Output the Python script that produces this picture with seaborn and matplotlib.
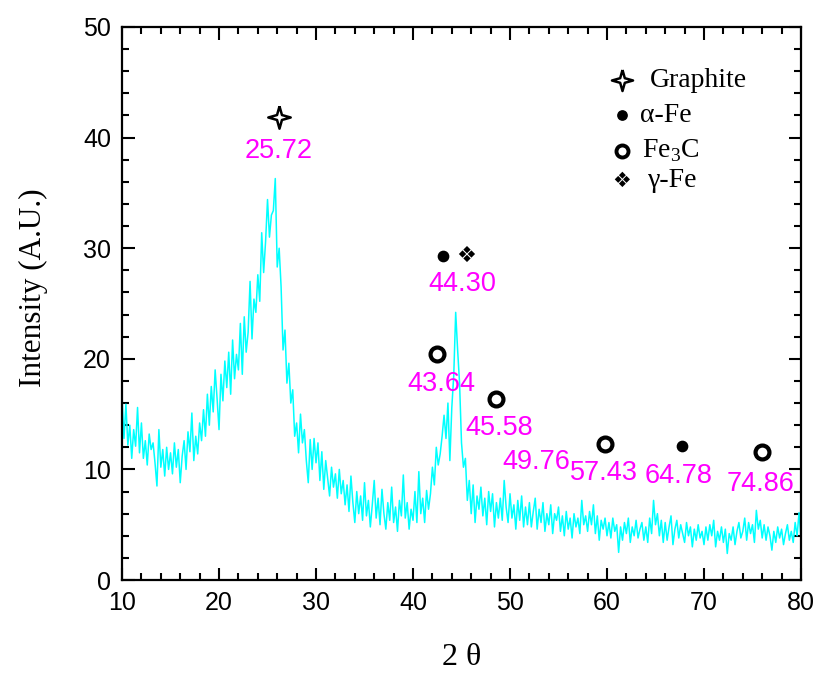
import numpy as np
import pandas as pd
import seaborn as sns
import matplotlib.pyplot as plt
from matplotlib.path import Path

# XRD intensity, every 0.2 degree from 10 to 80
intensity = [
    16.5, 12.8, 15.9, 12.2, 14.0,  11.0, 13.6, 12.1, 15.6, 11.5,
    14.2, 11.0, 12.6, 10.4, 13.2,  11.8, 12.4, 10.6, 8.5, 13.6,
    10.2, 11.8, 9.4, 12.0, 10.0,   11.5, 9.6, 12.4, 10.2, 11.8,
    8.8, 11.2, 12.6, 10.0, 13.4,   11.6, 15.1, 10.8, 13.0, 11.4,
    14.2, 12.6, 15.4, 13.0, 16.8,  14.0, 17.5, 15.2, 19.0, 16.4,
    13.6, 18.6, 16.2, 19.8, 17.4,  20.6, 16.8, 21.7, 18.2, 20.4,
    19.0, 23.2, 18.6, 23.8, 20.6,  22.4, 27.0, 21.8, 25.4, 24.2,
    27.6, 25.2, 31.4, 27.8, 30.6,  34.4, 31.0, 33.0, 33.4, 36.3,
    28.3, 30.0, 26.5, 20.8, 22.6,  17.8, 19.6, 16.0, 17.2, 13.0,
    14.2, 11.5, 15.0, 12.4, 13.6,  10.8, 8.8, 12.7, 10.0, 12.8,
    10.6, 12.4, 9.0, 11.6, 8.2,    10.8, 9.2, 7.6, 10.2, 8.4,
    9.6, 7.4, 10.0, 7.8, 9.0,      6.8, 8.6, 6.2, 9.4, 7.0,
    5.2, 8.0, 6.0, 7.6, 5.4,       8.8, 5.8, 7.2, 4.8, 6.8,
    9.0, 5.6, 7.4, 5.0, 8.2,       6.0, 4.6, 7.0, 5.4, 8.4,
    5.2, 6.6, 4.4, 7.2, 5.8,       9.5, 5.6, 7.0, 4.6, 6.4,
    5.4, 8.0, 5.2, 9.8, 6.0,       7.4, 5.2, 8.1, 6.4, 7.8,
    10.2, 8.6, 12.0, 10.4, 11.4,   13.0, 14.9, 12.8, 16.0, 10.8,
    15.6, 18.5, 24.2, 20.8, 17.8,  12.4, 10.2, 11.0, 7.2, 9.0,
    6.0, 8.6, 5.2, 7.6, 6.4,       8.4, 5.8, 7.4, 5.0, 8.0,
    6.2, 7.8, 4.8, 7.0, 5.6,       7.4, 5.4, 9.0, 6.6, 5.2,
    7.8, 5.6, 6.8, 4.6, 7.2,       5.4, 7.6, 4.8, 6.6, 5.0,
    7.0, 4.8, 6.2, 7.4, 4.6,       6.4, 5.2, 7.0, 4.4, 6.0,
    5.0, 6.8, 4.2, 6.0, 5.4,       6.6, 4.4, 5.8, 4.0, 6.2,
    4.6, 5.6, 3.8, 6.0, 4.8,       5.6, 4.2, 7.2, 5.0, 5.8,
    4.4, 6.2, 5.0, 6.8, 4.2,       5.8, 3.6, 5.4, 4.6, 5.6,
    4.0, 5.2, 3.8, 5.6, 4.4,       5.0, 2.5, 4.8, 3.6, 5.2,
    4.2, 5.6, 3.4, 4.8, 4.0,       5.4, 3.8, 4.6, 5.2, 3.6,
    4.8, 3.4, 5.6, 4.2, 7.2,       5.0, 6.0, 4.0, 5.4, 3.4,
    5.2, 3.6, 4.8, 5.8, 3.2,       4.6, 5.4, 3.8, 5.0, 4.2,
    3.4, 5.2, 4.0, 4.8, 3.0,       4.6, 3.6, 5.0, 3.8, 4.4,
    3.2, 4.8, 3.6, 5.0, 4.0,       5.4, 3.0, 4.4, 3.6, 4.8,
    3.4, 4.6, 2.4, 4.2, 3.6,       4.8, 3.2, 4.4, 5.2, 3.8,
    4.4, 5.6, 3.6, 5.2, 4.2,       5.0, 3.4, 6.3, 4.6, 5.4,
    3.8, 5.0, 3.6, 4.8, 4.0,       2.7, 4.4, 3.4, 4.8, 3.8,
    4.6, 3.2, 4.2, 5.0, 3.6,       4.4, 3.4, 5.2, 4.0, 6.1,
    3.8,
]
two_theta = np.linspace(10, 80, len(intensity))

# peak labels
peak_labels = ["25.72", "44.30", "43.64", "45.58", "49.76", "57.43", "64.78", "74.86"]
label_x = [26.1, 45.05, 42.9, 48.9, 52.7, 59.7, 67.4, 75.8]
label_y = [38.8, 26.8, 17.7, 13.7, 10.7, 9.7, 9.4, 8.7]

# phase markers over the peaks
graphite_x, graphite_y = [26.2], [41.9]
alpha_x, alpha_y = [43.1, 67.7], [29.3, 12.1]
gamma_x, gamma_y = [45.5], [29.3]
fe3c_x, fe3c_y = [42.5, 48.55, 59.8, 76.0], [20.4, 16.4, 12.3, 11.6]

df = pd.DataFrame({"two_theta": two_theta, "intensity": intensity})

sns.set_style("ticks")
plt.rcParams["font.family"] = ["Liberation Sans", "DejaVu Sans"]
plt.rcParams["text.color"] = "black"
plt.rcParams["axes.labelcolor"] = "black"
plt.rcParams["xtick.color"] = "black"
plt.rcParams["ytick.color"] = "black"
plt.rcParams["mathtext.fontset"] = "custom"
plt.rcParams["mathtext.rm"] = "Liberation Serif"

# four pointed outline star
star = Path([(0, 1), (0.22, 0.22), (1, 0), (0.22, -0.22), (0, -1),
             (-0.22, -0.22), (-1, 0), (-0.22, 0.22), (0, 1)])

fig = plt.figure(figsize=(8.19, 6.75), dpi=100)
ax = fig.add_axes([0.149, 0.1407, 0.829, 0.8193])

sns.lineplot(data=df, x="two_theta", y="intensity", color="#00FFFF",
             linewidth=1.1, ax=ax)

serif = ["Liberation Serif", "DejaVu Serif"]
sym = ["DejaVu Sans"]

for t, x, y in zip(peak_labels, label_x, label_y):
    ax.text(x, y, t, color="#FF00FF", fontsize=19.5, ha="center", va="center")

ax.scatter(graphite_x, graphite_y, marker=star, s=260, facecolor="white",
           edgecolor="black", linewidth=1.8, zorder=5)
for x, y in zip(gamma_x, gamma_y):
    ax.text(x, y, "\u2756", fontsize=16, ha="center", va="center", family=sym)
ax.scatter(alpha_x, alpha_y, s=55, color="black", zorder=5)
ax.scatter(fe3c_x, fe3c_y, s=100, facecolor="white", edgecolor="black",
           linewidth=3.0, zorder=5)

# legend drawn by hand
ax.scatter([61.5], [45.2], marker=star, s=230, facecolor="white",
           edgecolor="black", linewidth=1.8, zorder=5)
ax.text(64.4, 45.2, "Graphite", fontsize=20, va="center", family=serif)
ax.scatter([61.5], [42.0], s=45, color="black", zorder=5)
ax.text(63.4, 42.0, "\u03b1-Fe", fontsize=20, va="center", family=serif)
ax.scatter([61.5], [38.8], s=75, facecolor="white", edgecolor="black",
           linewidth=2.8, zorder=5)
ax.text(63.6, 38.8, "Fe$_3$C", fontsize=20, va="center", family=serif)
ax.text(61.5, 36.1, "\u2756", fontsize=15, ha="center", va="center", family=sym)
ax.text(64.2, 36.1, "\u03b3-Fe", fontsize=20, va="center", family=serif)

ax.set_xlim(10, 80)
ax.set_ylim(0, 50)
ax.set_xticks(range(10, 81, 10))
ax.set_yticks(range(0, 51, 10))
ax.set_xticks(range(10, 81, 2), minor=True)
ax.set_yticks(range(0, 51, 2), minor=True)
ax.tick_params(which="both", direction="in", top=True, right=True,
               labelsize=18, width=1.5, pad=8)
ax.tick_params(which="major", length=9)
ax.tick_params(which="minor", length=5)
for s in ax.spines.values():
    s.set_linewidth(1.6)
    s.set_color("black")

ax.set_xlabel("2 \u03b8", fontsize=23, family=serif, labelpad=20)
ax.set_ylabel("Intensity (A.U.)", fontsize=22.5, family=serif)
ax.yaxis.set_label_coords(-0.109, 0.528)

fig.savefig("out.png", dpi=100)
